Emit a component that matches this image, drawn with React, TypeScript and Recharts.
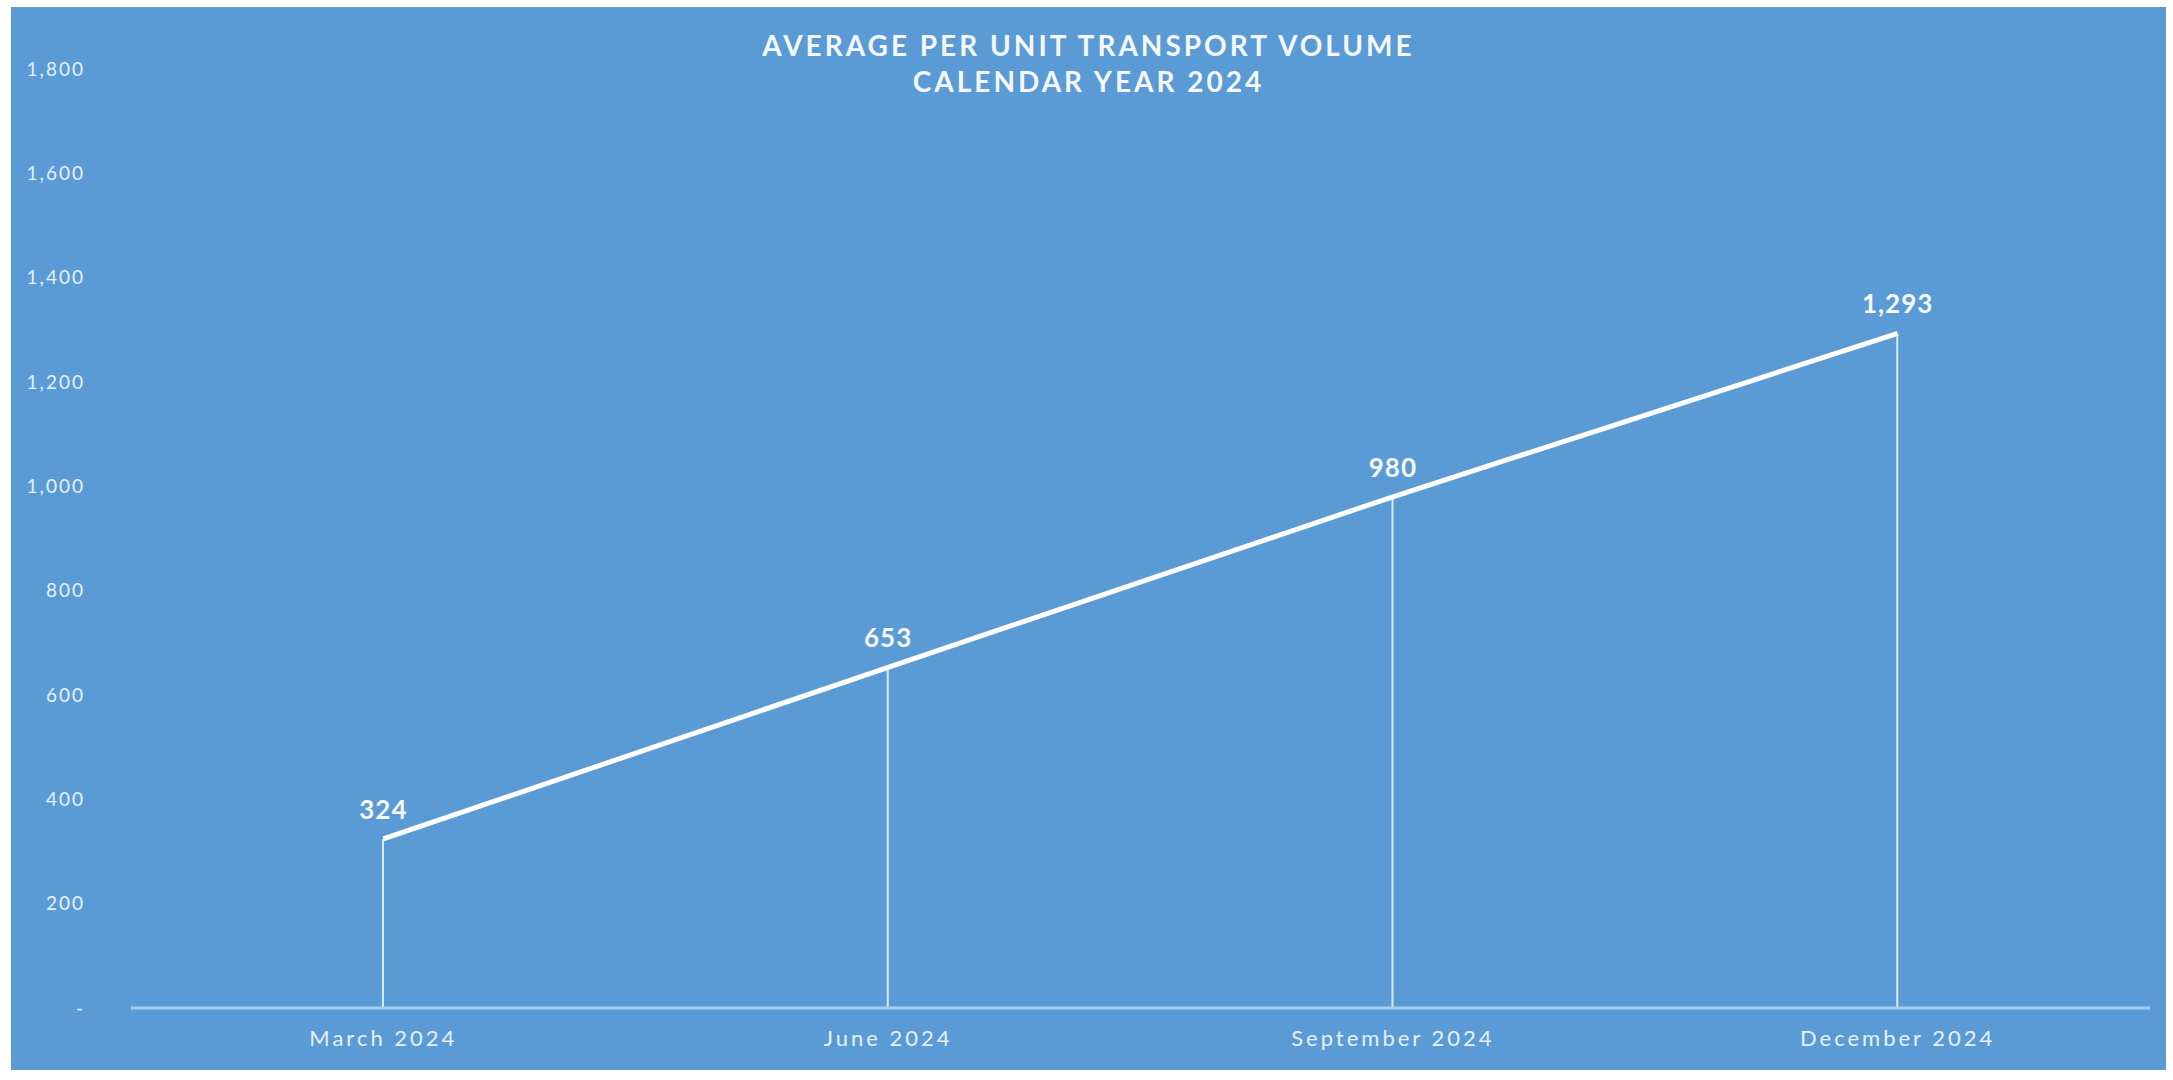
import React from 'react';
import { ComposedChart, Line, Bar, XAxis, YAxis, LabelList } from 'recharts';

const categories = ['March 2024', 'June 2024', 'September 2024', 'December 2024'];
const volumes = [324, 653, 980, 1293];
const yTicks = [0, 200, 400, 600, 800, 1000, 1200, 1400, 1600, 1800];
const titleLines = ['AVERAGE PER UNIT TRANSPORT VOLUME', 'CALENDAR YEAR 2024'];

const data = categories.map((c, i) => ({ month: c, value: volumes[i] }));

const FONT = 'Lato, "Open Sans", sans-serif';
const BG = '#5B9BD5';

const fmt = (v: number) => (v === 0 ? '-' : v.toLocaleString('en-US'));

export default function App() {
  return (
    <div style={{ position: 'absolute', left: 0, top: 0, width: 2173, height: 1080, background: '#ffffff', overflow: 'hidden' }}>
      <div style={{ position: 'absolute', left: 11, top: 7, width: 2155, height: 1063, background: BG }}>
        <div
          style={{
            position: 'absolute',
            left: 0,
            width: 2155,
            top: 20,
            textAlign: 'center',
            fontFamily: FONT,
            fontWeight: 700,
            fontSize: 28,
            lineHeight: '36px',
            letterSpacing: 3,
            color: '#F4F8FD',
          }}
        >
          <div>{titleLines[0]}</div>
          <div>{titleLines[1]}</div>
        </div>
        <ComposedChart
          width={2155}
          height={1063}
          data={data}
          margin={{ top: 62, right: 16, bottom: 22, left: 0 }}
        >
          <XAxis
            dataKey="month"
            axisLine={{ stroke: '#A9CDEE', strokeWidth: 3 }}
            tickLine={false}
            tickSize={0}
            tickMargin={22}
            height={40}
            tick={{ fill: '#E6F0FA', fontSize: 22, fontFamily: FONT, letterSpacing: 3 }}
          />
          <YAxis
            domain={[0, 1800]}
            ticks={yTicks}
            tickFormatter={fmt}
            axisLine={false}
            tickLine={false}
            tickSize={0}
            tickMargin={46}
            width={120}
            tick={{ fill: '#E6F0FA', fontSize: 19, fontFamily: FONT, letterSpacing: 2 }}
          />
          <Bar dataKey="value" barSize={2} fill="#D6E8F8" isAnimationActive={false} />
          <Line
            type="linear"
            dataKey="value"
            stroke="#FFFFFF"
            strokeWidth={5}
            dot={false}
            activeDot={false}
            isAnimationActive={false}
          >
            <LabelList
              dataKey="value"
              position="top"
              offset={20}
              formatter={(v: number) => v.toLocaleString('en-US')}
              style={{ fill: '#F4F8FD', fontSize: 26, fontWeight: 700, fontFamily: FONT, letterSpacing: 1 }}
            />
          </Line>
        </ComposedChart>
      </div>
    </div>
  );
}
